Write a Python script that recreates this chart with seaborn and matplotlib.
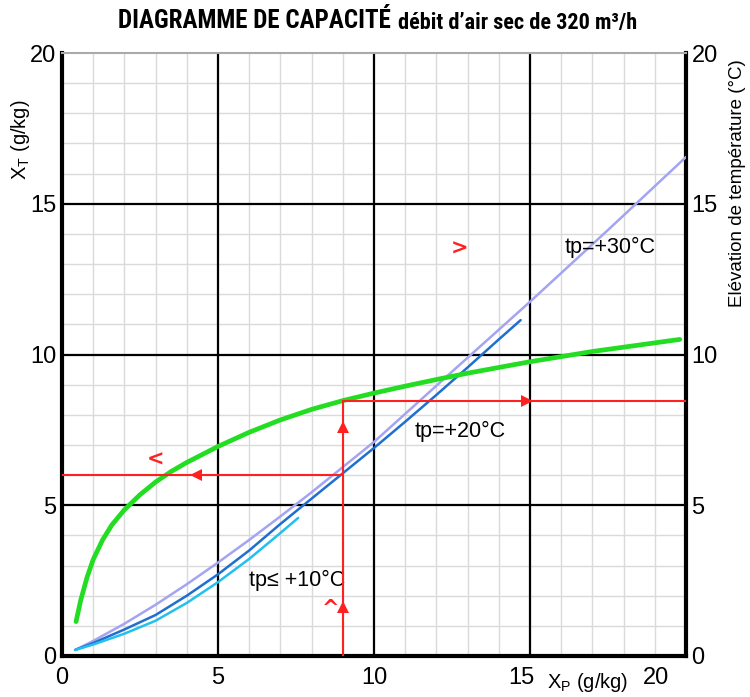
#!/usr/bin/env python3
"""
Capacity diagram: X_T vs X_P for several dew-point temperatures, plus temperature rise curve
"""
import numpy as np
import pandas as pd
import seaborn as sns
import matplotlib.pyplot as plt
from matplotlib import font_manager
from matplotlib.transforms import ScaledTranslation

# curve data
tp30_x = [0.42, 1.0, 2.0, 3.0, 4.0, 5.0, 6.0, 7.0, 8.0, 10.0, 12.5, 15.0, 17.5, 20.0]
tp30_y = [0.2, 0.5, 1.07, 1.7, 2.38, 3.1, 3.85, 4.63, 5.43, 7.1, 9.43, 11.75, 14.13, 16.55]

tp20_x = [0.42, 1.0, 2.0, 3.0, 4.0, 5.0, 6.0, 7.0, 8.0, 9.0, 10.0, 11.0, 12.0, 13.0, 14.0, 14.7]
tp20_y = [0.2, 0.43, 0.88, 1.36, 2.0, 2.71, 3.5, 4.38, 5.22, 6.06, 6.9, 7.77, 8.66, 9.57,
          10.5, 11.14]

tp10_x = [0.42, 1.0, 2.0, 3.0, 4.0, 5.0, 6.0, 7.0, 7.57]
tp10_y = [0.2, 0.38, 0.74, 1.17, 1.76, 2.45, 3.22, 4.08, 4.58]

rise_x = [0.45, 0.6, 0.8, 1.0, 1.3, 1.6, 2.0, 2.5, 3.0, 3.5, 4.0, 5.0, 6.0, 7.0, 8.0,
          9.0, 10.0, 11.0, 12.0, 13.0, 15.0, 17.0, 19.8]
rise_y = [1.14, 1.85, 2.6, 3.2, 3.85, 4.35, 4.85, 5.35, 5.77, 6.12, 6.42, 6.95, 7.42,
          7.83, 8.18, 8.47, 8.72, 8.95, 9.17, 9.38, 9.76, 10.1, 10.5]

# reading example (red construction lines)
read_xp = 9.0
read_xt = 6.0
read_rise = 8.47

ticks = [0, 5, 10, 15, 20]

sns.set_style('white')
plt.rcParams['font.family'] = ['Liberation Sans', 'DejaVu Sans']
plt.rcParams['text.color'] = 'black'
plt.rcParams['xtick.color'] = 'black'
plt.rcParams['ytick.color'] = 'black'

available = {f.name for f in font_manager.fontManager.ttflist}
narrow = [f for f in ['Roboto Condensed', 'Liberation Sans Narrow', 'DejaVu Sans Condensed',
                      'Open Sans Condensed', 'Roboto'] if f in available]
title_font = narrow[0] if narrow else 'DejaVu Sans'

fig = plt.figure(figsize=(7.5, 6.97), dpi=100)
ax = fig.add_axes([62 / 750, 41 / 697, 624 / 750, 603 / 697])

# grid
for v in np.arange(1, 20):
    if v % 5:
        ax.axvline(v, color='#dadada', lw=1.0, zorder=0)
        ax.axhline(v, color='#dadada', lw=1.0, zorder=0)
for v in ticks[1:-1]:
    ax.axvline(v, color='black', lw=1.6, zorder=1)
    ax.axhline(v, color='black', lw=1.6, zorder=1)

# curves
curves = [
    (tp30_x, tp30_y, '#a4a4f2', 1.8),
    (tp20_x, tp20_y, '#1f6fd0', 1.8),
    (tp10_x, tp10_y, '#22c0f0', 1.8),
    (rise_x, rise_y, '#22dd22', 3.4),
]
for xs, ys, col, lw in curves:
    df = pd.DataFrame({'x': xs, 'y': ys})
    sns.lineplot(data=df, x='x', y='y', ax=ax, color=col, lw=lw, sort=False, zorder=3)

# red construction lines
red = '#ff2020'
ax.plot([read_xp, read_xp], [0, read_rise], color=red, lw=1.5, zorder=4)
ax.plot([read_xp, 20], [read_rise, read_rise], color=red, lw=1.5, zorder=4)
ax.plot([0, read_xp], [read_xt, read_xt], color=red, lw=1.5, zorder=4)
arrow_kw = dict(color=red, markersize=8, zorder=5, clip_on=False, markeredgewidth=0)
ax.plot(read_xp, 1.63, marker='^', **arrow_kw)
ax.plot(read_xp, 7.6, marker='^', **arrow_kw)
ax.plot(14.9, read_rise, marker='>', **arrow_kw)
ax.plot(4.3, read_xt, marker='<', **arrow_kw)

# small chevrons
chev = dict(color=red, fontsize=15, fontweight='bold', ha='center', va='center', zorder=5,
            family=['DejaVu Sans'])
ax.text(3.0, 6.5, '<', **chev)
ax.text(12.75, 13.5, '>', **chev)
ax.text(8.6, 1.55, '^', **chev)

# curve labels
lab = dict(fontsize=15.5, ha='left', va='center', family=['Liberation Sans', 'DejaVu Sans'])
ax.text(16.1, 13.55, 'tp=+30°C', **lab)
ax.text(11.3, 7.45, 'tp=+20°C', **lab)
ax.text(6.0, 2.5, 'tp\u2264 +10°C', **lab)

ax.set_xlim(0, 20)
ax.set_ylim(0, 20)
ax.set_xlabel('')
ax.set_ylabel('')
ax.set_xticks(ticks)
ax.set_yticks(ticks)
ax.tick_params(length=0, labelsize=17, pad=8)
ax.tick_params(axis='y', right=True, labelright=True, pad=4)

# nudge the last x tick labels like the original
labels = ax.get_xticklabels()
shifts = {3: (-9, 0), 4: (-30, 0)}
for i, (dx, dy) in shifts.items():
    labels[i].set_transform(labels[i].get_transform()
                            + ScaledTranslation(dx / 100, dy / 100, fig.dpi_scale_trans))

for side in ['left', 'right', 'bottom']:
    ax.spines[side].set_color('black')
    ax.spines[side].set_linewidth(3)
ax.spines['top'].set_color('#aaaaaa')
ax.spines['top'].set_linewidth(1.5)

fig.text(20 / 750, 1 - 140 / 697, r'X$_\mathregular{T}$ (g/kg)', rotation=90,
         fontsize=14.5, ha='center', va='center')
fig.text(738 / 750, 1 - 183 / 697, 'Elévation de température (°C)', rotation=90,
         fontsize=13.5, ha='center', va='center')
fig.text(588 / 750, 1 - 683 / 697, r'X$_\mathregular{P}$ (g/kg)',
         fontsize=14.5, ha='center', va='center')

# title
t1 = fig.text(118 / 750, 1 - 21 / 697, 'DIAGRAMME DE CAPACITÉ', fontsize=18,
              fontweight='bold', family=title_font, fontstretch='condensed',
              ha='left', va='center')
fig.canvas.draw()
bb = t1.get_window_extent()
fig.text((bb.x1 + 7) / 750, 1 - 23 / 697, 'débit d\u2019air sec de 320 m³/h', fontsize=16,
         fontweight='bold', family=title_font, fontstretch='condensed',
         ha='left', va='center')

fig.savefig('out.png', dpi=100)
